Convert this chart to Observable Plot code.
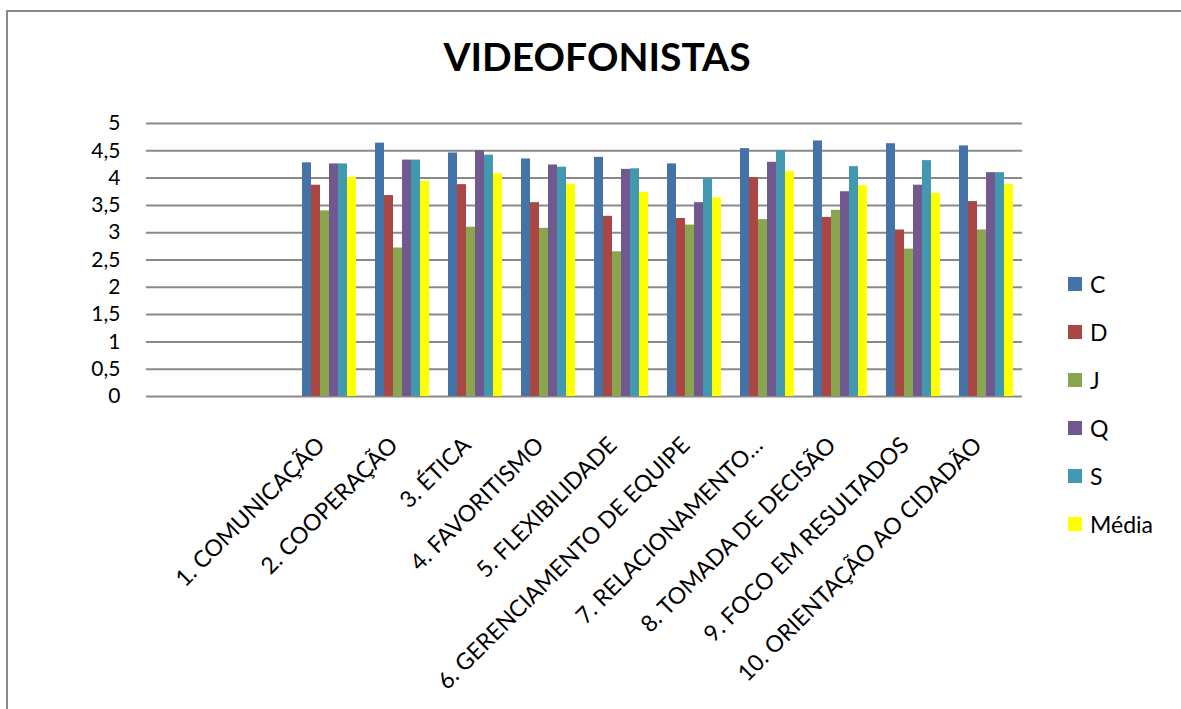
<!DOCTYPE html>
<html>
<head>
<meta charset="utf-8">
<script src="https://cdn.jsdelivr.net/npm/d3@7"></script>
<script src="https://cdn.jsdelivr.net/npm/@observablehq/plot@0.6"></script>
<style>
  html, body { margin: 0; padding: 0; background: #fff; }
  #wrap { position: relative; width: 1181px; height: 709px; overflow: hidden; font-family: Lato, "Open Sans", sans-serif; }
  #frame { position: absolute; left: 6px; top: 10px; width: 1300px; height: 900px; border-left: 2px solid #8a8a8a; border-top: 2px solid #8a8a8a; }
  #title { position: absolute; left: 0; width: 1194px; top: 33px; text-align: center; font-weight: 700; font-size: 39px; color: #000; }
  #legend { position: absolute; left: 1068px; top: 270px; }
  .item { position: absolute; left: 0; display: flex; align-items: center; font-size: 23px; color: #000; white-space: nowrap; }
  .sw { width: 14px; height: 14px; margin-right: 8px; }
  #chart { position: absolute; left: 0; top: 0; }
</style>
</head>
<body>
<div id="wrap">
  <div id="frame"></div>
  <div id="chart"></div>
  <div id="title">VIDEOFONISTAS</div>
  <div id="legend"></div>
</div>
<script>
// Competency categories (two leading empty slots on the axis)
const blankSlots = ["", " "];
const categories = [
  "1. COMUNICAÇÃO",
  "2. COOPERAÇÃO",
  "3. ÉTICA",
  "4. FAVORITISMO",
  "5. FLEXIBILIDADE",
  "6. GERENCIAMENTO DE EQUIPE",
  "7. RELACIONAMENTO…",
  "8. TOMADA DE DECISÃO",
  "9. FOCO EM RESULTADOS",
  "10. ORIENTAÇÃO AO CIDADÃO"
];
const series = ["C", "D", "J", "Q", "S", "Média"];
const colors = ["#4572A7", "#AA4643", "#89A54E", "#71588F", "#4198AF", "#FFFF00"];

// Scores per series, one value per category
const valuesC     = [4.28, 4.64, 4.46, 4.35, 4.38, 4.26, 4.54, 4.68, 4.63, 4.59];
const valuesD     = [3.87, 3.68, 3.88, 3.55, 3.30, 3.26, 4.01, 3.28, 3.05, 3.57];
const valuesJ     = [3.40, 2.72, 3.10, 3.08, 2.65, 3.14, 3.24, 3.41, 2.70, 3.05];
const valuesQ     = [4.26, 4.33, 4.50, 4.24, 4.16, 3.55, 4.29, 3.75, 3.87, 4.10];
const valuesS     = [4.26, 4.33, 4.42, 4.20, 4.17, 3.99, 4.50, 4.21, 4.32, 4.10];
const valuesMedia = [4.01, 3.94, 4.08, 3.89, 3.74, 3.64, 4.12, 3.86, 3.72, 3.88];

const yTicks = [0, 0.5, 1, 1.5, 2, 2.5, 3, 3.5, 4, 4.5, 5];

const seriesValues = [valuesC, valuesD, valuesJ, valuesQ, valuesS, valuesMedia];
const rows = [];
// empty slots keep their place on the category axis but carry no bar
blankSlots.forEach(b => rows.push({category: b, series: series[0], value: null}));
categories.forEach((cat, i) => {
  series.forEach((s, j) => rows.push({category: cat, series: s, value: seriesValues[j][i]}));
});

const chart = Plot.plot({
  width: 1181,
  height: 709,
  marginLeft: 143,
  marginRight: 156,
  marginTop: 123,
  marginBottom: 313,
  style: {fontFamily: "Lato, 'Open Sans', sans-serif", fontSize: "21px", color: "#000", background: "transparent", overflow: "visible"},
  facet: {data: rows, x: "category"},
  fx: {domain: [...blankSlots, ...categories], padding: 0},
  x: {domain: series, paddingInner: 0, paddingOuter: 0.76, axis: null},
  y: {domain: [0, 5]},
  color: {domain: series, range: colors},
  marks: [
    Plot.ruleY(yTicks, {stroke: "#8a8a8a", strokeWidth: 2, strokeOpacity: 1}),
    Plot.barY(rows, {x: "series", y: "value", fill: "series"}),
    Plot.axisY({
      ticks: yTicks,
      tickFormat: d => String(d).replace(".", ","),
      tickSize: 0,
      tickPadding: 26,
      fontSize: 21,
      label: null
    }),
    Plot.axisFx({
      anchor: "bottom",
      tickRotate: -45,
      tickSize: 0,
      tickPadding: 40,
      dx: -8,
      dy: 5,
      fontSize: 23,
      label: null
    })
  ]
});
document.getElementById("chart").appendChild(chart);

// Vertical legend
const legend = document.getElementById("legend");
series.forEach((s, i) => {
  const item = document.createElement("div");
  item.className = "item";
  item.style.top = (i * 48) + "px";
  const sw = document.createElement("div");
  sw.className = "sw";
  sw.style.background = colors[i];
  const label = document.createElement("span");
  label.textContent = s;
  item.appendChild(sw);
  item.appendChild(label);
  legend.appendChild(item);
});
</script>
</body>
</html>
